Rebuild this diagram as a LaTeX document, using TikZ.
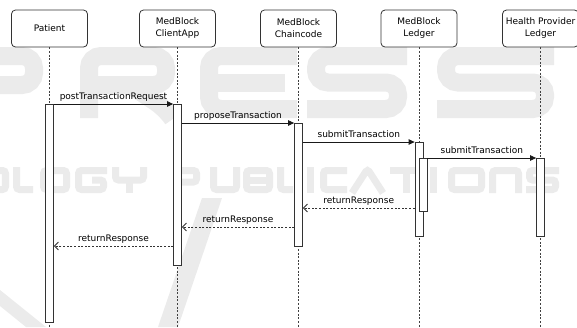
\documentclass[tikz,border=0pt]{standalone}
\usepackage{fontspec}
\setmainfont{DejaVu Sans}
\usetikzlibrary{arrows.meta,calc}

\begin{document}
\begin{tikzpicture}[x=1bp,y=-1bp,
  font=\fontsize{9bp}{12bp}\selectfont,
  head/.style={draw=black!80, line width=0.8bp, rounded corners=4bp, fill=white,
    minimum width=76bp, minimum height=37bp, align=center, inner sep=1bp},
  life/.style={draw=black!75, line width=0.7bp, dash pattern=on 2bp off 1.6bp},
  actbar/.style={draw=black!80, line width=0.8bp, fill=white, minimum width=8bp,
    inner sep=0pt, anchor=north},
  call/.style={draw=black!90, line width=0.8bp, -{Triangle[length=6bp,width=5.5bp]}},
  reply/.style={draw=black!80, line width=0.8bp, dash pattern=on 2bp off 1.6bp,
    -{Straight Barb[length=4bp,width=8bp]}},
  lbl/.style={above=0.5bp, inner sep=1bp, text height=7bp, text depth=2.5bp},
  wmthick/.style={draw=black!8, line width=18bp, rounded corners=12bp},
  wmthin/.style={draw=black!8, line width=7bp, rounded corners=3bp}
]
\useasboundingbox (0,0) rectangle (577,327);

% faint publisher watermark, drawn as stroked letter shapes
% large row: P R E S S
\draw[wmthick] (-30,118) -- (-30,56) -- (34,56) -- (34,85) -- (-30,85);
\draw[wmthick] (89,118) -- (89,56) -- (166,56) -- (166,85) -- (89,85);
\draw[wmthick] (130,85) -- (166,109) -- (172,118);
\draw[wmthick] (297,56) -- (209,56) -- (209,109) -- (297,109);
\draw[wmthick] (209,82.5) -- (285,82.5);
\draw[wmthick] (407,56) -- (316,56) -- (316,82.5) -- (398,82.5) -- (398,109) -- (307,109);
\draw[wmthick] (554,56) -- (446,56) -- (446,82.5) -- (545,82.5) -- (545,109) -- (437,109);
% small row: OLOGY PUBLICATIONS
\draw[wmthin] (-16.5,170.5) rectangle (5.5,189.5);
\draw[wmthin] (16.5,167) -- (16.5,189.5) -- (33,189.5);
\draw[wmthin] (43.5,170.5) rectangle (66.5,189.5);
\draw[wmthin] (107,170.5) -- (78.5,170.5) -- (78.5,189.5) -- (103.5,189.5) -- (103.5,180) -- (92,180);
\draw[wmthin] (115.5,167) -- (115.5,180) -- (143.5,180) -- (143.5,167);
\draw[wmthin] (129.5,180) -- (129.5,193);
\draw[wmthin] (176.5,193) -- (176.5,170.5) -- (196.5,170.5) -- (196.5,182) -- (176.5,182);
\draw[wmthin] (213.5,167) -- (213.5,189.5) -- (236.5,189.5) -- (236.5,167);
\draw[wmthin] (246.5,170.5) rectangle (269.5,189.5);
\draw[wmthin] (246.5,180) -- (266,180);
\draw[wmthin] (280.5,167) -- (280.5,189.5) -- (293,189.5);
\draw[wmthin] (310,167) -- (310,193);
\draw[wmthin] (347,170.5) -- (323.5,170.5) -- (323.5,189.5) -- (347,189.5);
\draw[wmthin] (352,193) -- (367.5,169) -- (383,193);
\draw[wmthin] (390,170.5) -- (423,170.5);
\draw[wmthin] (406.5,170.5) -- (406.5,193);
\draw[wmthin] (433.5,167) -- (433.5,193);
\draw[wmthin] (451.5,170.5) rectangle (481.5,189.5);
\draw[wmthin] (492.5,193) -- (492.5,170.5) -- (518.5,170.5) -- (518.5,193);
\draw[wmthin] (559,170.5) -- (529.5,170.5) -- (529.5,180) -- (555.5,180) -- (555.5,189.5) -- (526,189.5);
% slanted strokes of the logo
\fill[black!8] (202,198) -- (222,198) -- (178,327) -- (158,327) -- cycle;
\fill[black!8] (0,290) -- (0,306) -- (26,327) -- (46,327) -- cycle;

% participants
\node[head] (pat) at (49.5,28.5) {Patient};
\node[head] (app) at (177.5,28.5) {MedBlock\\ClientApp};
\node[head] (cc)  at (298.5,28.5) {MedBlock\\Chaincode};
\node[head] (led) at (419,28.5) {MedBlock\\Ledger};
\node[head] (hpl) at (540.5,28.5) {Health Provider\\Ledger};

% lifelines down to the bottom edge
\foreach \p in {pat,app,cc,led,hpl}{
  \coordinate (\p-end) at (\p.south |- 0,327);
  \draw[life] (\p.south) -- (\p-end);
}

% activation bars
\node[actbar, minimum height=218bp] (patbar) at (49.5,104) {};
\node[actbar, minimum height=161bp] (appbar) at (177.5,104) {};
\node[actbar, minimum height=123bp] (ccbar)  at (298.5,123) {};
\node[actbar, minimum height=94bp]  (ledbar) at (419,142) {};
\node[actbar, minimum height=53bp]  (ledbarb) at (423,158) {};
\node[actbar, minimum height=78bp]  (hplbar) at (540.5,158) {};

% synchronous calls
\draw[call] (patbar.north east) -- (appbar.north west)
  node[midway,lbl] {postTransactionRequest};
\draw[call] (appbar.east |- ccbar.north) -- (ccbar.north west)
  node[midway,lbl] {proposeTransaction};
\draw[call] (ccbar.east |- ledbar.north) -- (ledbar.north west)
  node[midway,lbl] {submitTransaction};
\draw[call] (ledbarb.north east) -- (hplbar.north west)
  node[midway,lbl] {submitTransaction};

% replies
\draw[reply] (ledbar.west |- 0,208) -- (ccbar.east |- 0,208)
  node[midway,lbl] {returnResponse};
\draw[reply] (ccbar.west |- 0,227) -- (appbar.east |- 0,227)
  node[midway,lbl] {returnResponse};
\draw[reply] (appbar.west |- 0,246) -- (patbar.east |- 0,246)
  node[midway,lbl] {returnResponse};
\end{tikzpicture}
\end{document}
